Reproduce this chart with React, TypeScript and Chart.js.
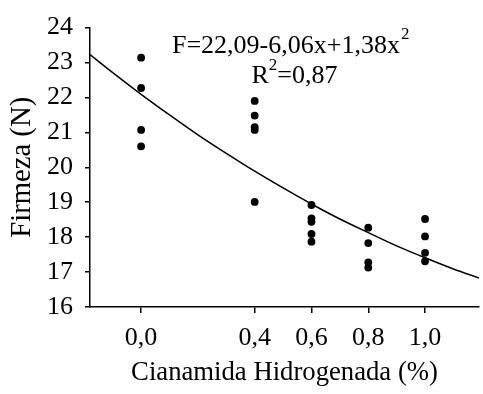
import React, { useEffect, useRef } from "react";
import { Chart, registerables } from "chart.js";

Chart.register(...registerables);

// Observed data (Cianamida Hidrogenada %, Firmeza N)
const xPts0 = [0, 0, 0, 0];
const yPts0 = [23.14, 22.27, 21.07, 20.6];
const xPts04 = [0.4, 0.4, 0.4, 0.4, 0.4];
const yPts04 = [21.9, 21.48, 21.15, 21.07, 19.01];
const xPts06 = [0.6, 0.6, 0.6, 0.6, 0.6];
const yPts06 = [18.92, 18.54, 18.44, 18.09, 17.87];
const xPts08 = [0.8, 0.8, 0.8, 0.8];
const yPts08 = [18.27, 17.83, 17.28, 17.13];
const xPts10 = [1.0, 1.0, 1.0, 1.0];
const yPts10 = [18.52, 18.02, 17.55, 17.31];

// Fitted curve
const curveX = [-0.18, -0.1, 0, 0.1, 0.2, 0.3, 0.4, 0.5, 0.6, 0.7, 0.8, 0.9, 1.0, 1.1, 1.19];
const curveY = [23.23, 22.71, 22.09, 21.5, 20.93, 20.4, 19.89, 19.41, 18.95, 18.52, 18.13, 17.75, 17.41, 17.09, 16.83];

const xTicks = [0, 0.4, 0.6, 0.8, 1.0];
const yMin = 16;
const yMax = 24;
const xMin = -0.18;
const xMax = 1.19;

const eqLine1 = "F=22,09-6,06x+1,38x";
const eqLine2a = "R";
const eqLine2b = "=0,87";
const sup = "2";

const FONT = "'Liberation Serif', 'Times New Roman', serif";

const annotationPlugin = {
  id: "eqAnnotation",
  afterDraw(chart: any) {
    const { ctx } = chart;
    const xs = chart.scales.x;
    const ys = chart.scales.y;
    ctx.save();
    ctx.fillStyle = "#000";
    ctx.textBaseline = "alphabetic";
    ctx.textAlign = "left";
    const main = `26px ${FONT}`;
    const small = `17px ${FONT}`;
    // line 1
    ctx.font = main;
    const w1 = ctx.measureText(eqLine1).width;
    ctx.font = small;
    const ws = ctx.measureText(sup).width;
    const cx = xs.getPixelForValue(0.525);
    const b1 = ys.getPixelForValue(23.27);
    const x1 = cx - (w1 + ws) / 2;
    ctx.font = main;
    ctx.fillText(eqLine1, x1, b1);
    ctx.font = small;
    ctx.fillText(sup, x1 + w1 + 1, b1 - 14);
    // line 2
    ctx.font = main;
    const wa = ctx.measureText(eqLine2a).width;
    const wb = ctx.measureText(eqLine2b).width;
    const b2 = ys.getPixelForValue(22.42);
    const cx2 = xs.getPixelForValue(0.54);
    const x2 = cx2 - (wa + ws + wb) / 2;
    ctx.fillText(eqLine2a, x2, b2);
    ctx.font = small;
    ctx.fillText(sup, x2 + wa, b2 - 13);
    ctx.font = main;
    ctx.fillText(eqLine2b, x2 + wa + ws, b2);
    ctx.restore();
  },
};

export default function App() {
  const ref = useRef<HTMLCanvasElement>(null);
  useEffect(() => {
    if (!ref.current) return;
    const pts = (xs: number[], ys: number[]) => xs.map((x, i) => ({ x, y: ys[i] }));
    const scatter = [
      ...pts(xPts0, yPts0),
      ...pts(xPts04, yPts04),
      ...pts(xPts06, yPts06),
      ...pts(xPts08, yPts08),
      ...pts(xPts10, yPts10),
    ];
    const chart = new Chart(ref.current, {
      type: "scatter",
      data: {
        datasets: [
          {
            type: "line",
            data: pts(curveX, curveY),
            borderColor: "#000",
            borderWidth: 1.5,
            pointRadius: 0,
            cubicInterpolationMode: "monotone",
            fill: false,
          } as any,
          {
            type: "scatter",
            data: scatter,
            backgroundColor: "#000",
            borderWidth: 0,
            pointRadius: 3.9,
          },
        ],
      },
      options: {
        animation: false,
        responsive: false,
        devicePixelRatio: 1,
        layout: { padding: { top: 24, left: 0, right: 0, bottom: 0 } },
        plugins: { legend: { display: false }, tooltip: { enabled: false } },
        scales: {
          x: {
            type: "linear",
            min: xMin,
            max: xMax,
            afterBuildTicks: (s: any) => {
              s.ticks = xTicks.map((v) => ({ value: v }));
            },
            afterFit: (s: any) => {
              s.height = 87;
            },
            ticks: {
              callback: (v: any) => Number(v).toFixed(1).replace(".", ","),
              font: { family: FONT, size: 26 },
              color: "#000",
              padding: 10,
              maxRotation: 0,
            },
            grid: { drawOnChartArea: false, drawTicks: true, tickLength: 6, color: "#000", lineWidth: 1.5 },
            border: { display: true, color: "#000", width: 1.5 },
            title: {
              display: true,
              text: "Cianamida Hidrogenada (%)",
              font: { family: FONT, size: 26.7 },
              color: "#000",
              padding: { top: 0, bottom: 5 },
            },
          },
          y: {
            type: "linear",
            min: yMin,
            max: yMax,
            afterFit: (s: any) => {
              s.width = 90;
            },
            ticks: {
              stepSize: 1,
              callback: (v: any) => String(v),
              font: { family: FONT, size: 26 },
              color: "#000",
              padding: 12,
            },
            grid: { drawOnChartArea: false, drawTicks: true, tickLength: 5, color: "#000", lineWidth: 1.5 },
            border: { display: true, color: "#000", width: 1.5 },
            title: {
              display: true,
              text: "Firmeza (N)",
              font: { family: FONT, size: 28.7 },
              color: "#000",
              padding: { top: 5, bottom: 0 },
            },
          },
        },
      },
      plugins: [annotationPlugin],
    });
    return () => chart.destroy();
  }, []);
  return (
    <div style={{ position: "absolute", left: 0, top: 0, width: 483, height: 394, background: "#fff" }}>
      <canvas ref={ref} width={483} height={394} style={{ display: "block" }} />
    </div>
  );
}
